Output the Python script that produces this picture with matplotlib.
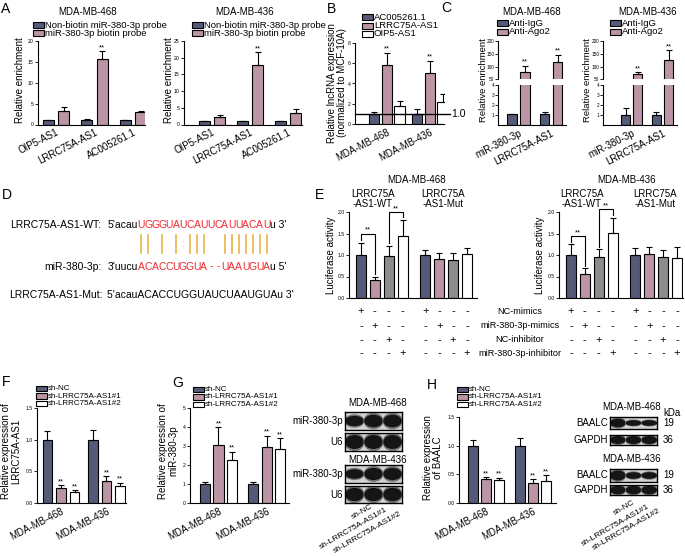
import numpy as np
import matplotlib
matplotlib.use("Agg")
import matplotlib.pyplot as plt
from matplotlib.patches import Rectangle, Ellipse
from matplotlib import transforms

plt.rcParams['font.family'] = ['Liberation Sans', 'DejaVu Sans']

# ---- data ----
A_cats = ["OIP5-AS1", "LRRC75A-AS1", "AC005261.1"]
A468_ctrl = [1.0, 1.0, 1.0]
A468_ctrl_err = [0.15, 0.2, 0.15]
A468_probe = [3.3, 15.6, 2.9]
A468_probe_err = [0.8, 2.0, 0.3]
A436_ctrl = [1.0, 1.0, 1.0]
A436_ctrl_err = [0.15, 0.15, 0.15]
A436_probe = [2.3, 17.7, 3.3]
A436_probe_err = [0.6, 4.0, 1.2]

B_cats = ["MDA-MB-468", "MDA-MB-436"]
B_ac = [1.0, 1.0]
B_ac_err = [0.2, 0.5]
B_lrrc = [5.85, 5.05]
B_lrrc_err = [1.2, 1.2]
B_oip = [1.75, 2.15]
B_oip_err = [0.55, 0.85]

C_cats = ["miR-380-3p", "LRRC75A-AS1"]
C468_igg = [1.05, 1.05]
C468_igg_err = [0.08, 0.2]
C468_ago = [79, 118]
C468_ago_err = [25, 28]
C436_igg = [1.0, 1.0]
C436_igg_err = [0.65, 0.25]
C436_ago = [70, 125]
C436_ago_err = [9, 38]

E_rows = ["NC-mimics", "miR-380-3p-mimics", "NC-inhibitor", "miR-380-3p-inhibitor"]
E468 = [1.0, 0.43, 0.97, 1.45, 1.0, 0.9, 0.88, 1.03]
E468_err = [0.28, 0.07, 0.24, 0.37, 0.12, 0.15, 0.16, 0.13]
E436 = [1.0, 0.56, 0.95, 1.52, 1.0, 1.03, 0.96, 0.92]
E436_err = [0.25, 0.13, 0.18, 0.34, 0.16, 0.16, 0.15, 0.26]

sh_labels = ["sh-NC", "sh-LRRC75A-AS1#1", "sh-LRRC75A-AS1#2"]
F_nc = [1.0, 1.0]
F_nc_err = [0.13, 0.15]
F_sh1 = [0.23, 0.34]
F_sh1_err = [0.05, 0.08]
F_sh2 = [0.17, 0.27]
F_sh2_err = [0.03, 0.05]

G_nc = [1.0, 1.0]
G_nc_err = [0.1, 0.1]
G_sh1 = [3.05, 2.95]
G_sh1_err = [0.95, 0.6]
G_sh2 = [2.25, 2.85]
G_sh2_err = [0.45, 0.55]

H_nc = [1.0, 1.0]
H_nc_err = [0.1, 0.13]
H_sh1 = [0.41, 0.35]
H_sh1_err = [0.04, 0.06]
H_sh2 = [0.4, 0.38]
H_sh2_err = [0.04, 0.1]

# blot band strengths (lanes: sh-NC, #1, #2)
G468_mir = [0.5, 0.62, 0.62]
G468_u6 = [0.7, 0.7, 0.7]
G436_mir = [0.45, 0.6, 0.6]
G436_u6 = [0.7, 0.7, 0.7]
H468_baalc = [0.6, 0.35, 0.35]
H468_gapdh = [0.65, 0.65, 0.65]
H436_baalc = [0.65, 0.4, 0.4]
H436_gapdh = [0.7, 0.7, 0.7]

WT_red = "UGGGUAUCAUUCAUUACAU"
MIR_red = "ACACCUGGUA--UAAUGUA"

DARK = '#555a78'
PINK = '#bb94a6'
GREY = '#8c8c8c'
WHITE = '#ffffff'
RED = '#ee2a2f'
GOLD = '#e8b54a'

W, H = 685, 556
fig = plt.figure(figsize=(W / 100, H / 100), dpi=100)


def fx(x):
    return x / W


def fy(y):
    return 1 - y / H


def px_axes(x0, y0, x1, y1):
    ax = fig.add_axes([fx(x0), fy(y1), (x1 - x0) / W, (y1 - y0) / H])
    ax.spines['top'].set_visible(False)
    ax.spines['right'].set_visible(False)
    for s in ax.spines.values():
        s.set_linewidth(0.8)
    ax.tick_params(axis='y', length=2, width=0.6, pad=1, labelsize=3.7)
    ax.tick_params(axis='x', length=0, labelsize=7, pad=2)
    return ax


def ftext(x, y, s, **kw):
    kw.setdefault('fontsize', 7)
    return fig.text(fx(x), fy(y), s, **kw)


def legend_px(x, ys, labels, colors, fs=6.8):
    for y, lab, c in zip(ys, labels, colors):
        fig.add_artist(Rectangle((fx(x), fy(y + 2.7)), 11 / W, 5.4 / H, transform=fig.transFigure,
                                 fc=c, ec='black', lw=0.8))
        ftext(x + 12, y, lab, fontsize=fs, va='center', ha='left')


def bars(ax, vals_list, errs_list, colors, offs, width, stars=None):
    for k, (vals, errs, c) in enumerate(zip(vals_list, errs_list, colors)):
        xs = np.arange(len(vals)) + offs[k]
        ax.bar(xs, vals, width, color=c, edgecolor='black', linewidth=0.8, zorder=2)
        ax.errorbar(xs, vals, yerr=[np.zeros(len(vals)), errs], fmt='none', ecolor='black',
                    elinewidth=0.8, capsize=2, capthick=0.8, zorder=3)
        if stars is not None:
            for x, v, e, s in zip(xs, vals, errs, stars[k]):
                if s:
                    ax.text(x, v + e, s, ha='center', va='bottom', fontsize=5.5, clip_on=False)


def cat_labels(ax, labels, rot=27):
    ax.set_xticks(range(len(labels)))
    ax.set_xticklabels(labels, rotation=rot, ha='right', rotation_mode='anchor')


# ---------------- A ----------------
ftext(1, 9, "A", fontsize=10, va='center')
axA1 = px_axes(38, 41, 145, 124.5)
bars(axA1, [A468_ctrl, A468_probe], [A468_ctrl_err, A468_probe_err], [DARK, PINK], [-0.2, 0.2], 0.28,
     stars=[['', '', ''], ['', '**', '']])
axA1.set_ylim(0, 20)
axA1.set_yticks([0, 5, 10, 15, 20])
axA1.set_xlim(-0.47, 2.31)
cat_labels(axA1, A_cats)
ftext(88, 12, "MDA-MB-468", ha='center', va='center')
legend_px(33, [25, 33], ["Non-biotin miR-380-3p probe", "miR-380-3p biotin probe"], [DARK, PINK])
ftext(20, 80, "Relative enrichment", rotation=90, ha='center', va='center')

axA2 = px_axes(184, 41, 302, 124.5)
bars(axA2, [A436_ctrl, A436_probe], [A436_ctrl_err, A436_probe_err], [DARK, PINK], [-0.2, 0.2], 0.28,
     stars=[['', '', ''], ['', '**', '']])
axA2.set_ylim(0, 25)
axA2.set_yticks([0, 5, 10, 15, 20, 25])
axA2.set_xlim(-0.74, 2.37)
cat_labels(axA2, A_cats)
ftext(245, 12, "MDA-MB-436", ha='center', va='center')
legend_px(192, [25, 33], ["Non-biotin miR-380-3p probe", "miR-380-3p biotin probe"], [DARK, PINK])
ftext(169, 80, "Relative enrichment", rotation=90, ha='center', va='center')

# ---------------- B ----------------
ftext(327, 9, "B", fontsize=10, va='center')
axB = px_axes(355, 43, 444, 124)
bars(axB, [B_ac, B_lrrc, B_oip], [B_ac_err, B_lrrc_err, B_oip_err], [DARK, PINK, WHITE],
     [-0.3, 0.0, 0.3], 0.245, stars=[['', ''], ['**', '**'], ['', '']])
axB.set_ylim(0, 8)
axB.set_yticks([0, 2, 4, 6, 8])
axB.set_xlim(-0.74, 1.33)
cat_labels(axB, B_cats)
axB.plot([-0.74, 1.48], [1, 1], color='black', lw=1.0, clip_on=False, zorder=4)
axB.text(1.49, 1, "1.0", fontsize=7.5, ha='left', va='center')
legend_px(362, [17, 26, 34], ["AC005261.1", "LRRC75A-AS1", "OIP5-AS1"], [DARK, PINK, WHITE])
ftext(337, 83, "Relative lncRNA expression\n(normalized to MCF-10A)", rotation=90,
      ha='center', va='center', linespacing=1.0)

# ---------------- C ----------------
ftext(441, 8, "C", fontsize=10, va='center')


def broken(x0, x1, xl, xr, igg, igg_e, ago, ago_e):
    top = px_axes(x0, 41, x1, 79.3)
    bot = px_axes(x0, 85, x1, 125)
    for ax in (top, bot):
        bars(ax, [igg, ago], [igg_e, ago_e], [DARK, PINK], [-0.2, 0.2], 0.3,
             stars=[['', ''], ['**', '**']] if ax is top else None)
        ax.set_xlim(xl, xr)
        ax.tick_params(axis='y', labelsize=3.4, pad=0.8)
    top.spines['bottom'].set_visible(False)
    top.set_ylim(50, 200)
    top.set_yticks([50, 100, 150, 200])
    top.set_xticks([])
    bot.set_ylim(0, 4)
    bot.set_yticks([1, 2, 3, 4])
    cat_labels(bot, C_cats)
    return top, bot


broken(498, 566, -0.63, 1.46, C468_igg, C468_igg_err, C468_ago, C468_ago_err)
broken(603, 677, -0.93, 1.47, C436_igg, C436_igg_err, C436_ago, C436_ago_err)
ftext(532, 12, "MDA-MB-468", ha='center', va='center')
ftext(648, 12, "MDA-MB-436", ha='center', va='center')
legend_px(497, [23, 32], ["Anti-IgG", "Anti-Ago2"], [DARK, PINK])
legend_px(610, [23, 32], ["Anti-IgG", "Anti-Ago2"], [DARK, PINK])
ftext(483, 80, "Relative enrichment", rotation=90, ha='center', va='center', fontsize=6.8)
ftext(588, 80, "Relative enrichment", rotation=90, ha='center', va='center', fontsize=6.8)

# ---------------- D ----------------
ftext(2, 195, "D", fontsize=10, va='center')
DFS = 7.5
pitch = 6.97
red_x0 = 137.7
ftext(101.5, 225, "LRRC75A-AS1-WT:", fontsize=DFS, ha='right', va='center')
ftext(red_x0, 225, "5'acau", fontsize=DFS, ha='right', va='center')
for i, ch in enumerate(WT_red):
    ftext(red_x0 + pitch * (i + 0.5), 225, ch, fontsize=DFS, ha='center', va='center', color=RED)
ftext(red_x0 + pitch * len(WT_red), 225, "u 3'", fontsize=DFS, ha='left', va='center')

ftext(101.5, 266.5, "miR-380-3p:", fontsize=DFS, ha='right', va='center')
ftext(red_x0, 266.5, "3'uucu", fontsize=DFS, ha='right', va='center')
for i, ch in enumerate(MIR_red):
    ftext(red_x0 + pitch * (i + 0.5), 266.5, ch, fontsize=DFS, ha='center', va='center', color=RED)
ftext(red_x0 + pitch * len(MIR_red), 266.5, "u 5'", fontsize=DFS, ha='left', va='center')

# base pairing marks
for i, (a, b) in enumerate(zip(WT_red, MIR_red)):
    pair = a + b
    xc = fx(red_x0 + pitch * (i + 0.5))
    if pair in ("AU", "UA", "GC", "CG"):
        fig.add_artist(plt.Line2D([xc, xc], [fy(235), fy(253)], color=GOLD, lw=1.2))
    elif pair in ("UG", "GU"):
        ftext(red_x0 + pitch * (i + 0.5), 244, ":", fontsize=DFS, ha='center', va='center', color=GOLD)

ftext(103, 295, "LRRC75A-AS1-Mut:", fontsize=DFS, ha='right', va='center')
ftext(106.7, 295, "5'acauACACCUGGUAUCUAAUGUAu 3'", fontsize=DFS, ha='left', va='center')

# ---------------- E ----------------
ftext(315, 195, "E", fontsize=10, va='center')
E_pos = np.array([0, 1, 2, 3, 4.65, 5.65, 6.65, 7.65])
E_cols = [DARK, PINK, GREY, WHITE] * 2
row_y = [311, 326, 340, 353]


def luc(x0, x1, xr, vals, errs, b1, b2):
    ax = px_axes(x0, 212, x1, 298)
    ax.bar(E_pos, vals, 0.72, color=E_cols, edgecolor='black', linewidth=0.8, zorder=2)
    ax.errorbar(E_pos, vals, yerr=[np.zeros(len(vals)), errs], fmt='none', ecolor='black',
                elinewidth=0.8, capsize=2, capthick=0.8, zorder=3)
    ax.set_ylim(0, 2)
    ax.set_yticks([0, 0.5, 1.0, 1.5, 2.0])
    ax.set_yticklabels(["0.0", "0.5", "1.0", "1.5", "2.0"])
    ax.set_xlim(-0.86, xr)
    ax.set_xticks([])
    for (i, j), yb in zip([(0, 1), (2, 3)], [b1, b2]):
        ax.plot([E_pos[i], E_pos[i], E_pos[j], E_pos[j]],
                [vals[i] + errs[i] + 0.06, yb, yb, vals[j] + errs[j] + 0.06],
                color='black', lw=0.8, clip_on=False, zorder=4)
        ax.text((E_pos[i] + E_pos[j]) / 2, yb, "**", ha='center', va='bottom', fontsize=5.5)
    tr = transforms.blended_transform_factory(ax.transData, fig.transFigure)
    for r, y in enumerate(row_y):
        for j, x in enumerate(E_pos):
            s = '+' if j % 4 == r else '-'
            ax.text(x, fy(y), s, transform=tr, ha='center', va='center', fontsize=8)
    return ax


luc(349, 477, 8.37, E468, E468_err, 1.5, 2.0)
luc(559, 683, 8.08, E436, E436_err, 1.44, 2.07)
for lab, y in zip(E_rows, row_y):
    ftext(520, y, lab, fontsize=6.6, ha='center', va='center')
ftext(417, 180, "MDA-MB-468", ha='center', va='center')
ftext(627, 180, "MDA-MB-436", ha='center', va='center')
for xc, lab in [(373, "LRRC75A\n-AS1-WT"), (443, "LRRC75A\n-AS1-Mut"),
                (582, "LRRC75A\n-AS1-WT"), (655, "LRRC75A\n-AS1-Mut")]:
    ftext(xc, 199, lab, ha='center', va='center', linespacing=0.95)
ftext(331, 255, "Luciferase activity", rotation=90, ha='center', va='center')
ftext(540, 255, "Luciferase activity", rotation=90, ha='center', va='center')

# ---------------- F ----------------
SFS = 5.8
ftext(2, 382, "F", fontsize=10, va='center')
axF = px_axes(37, 408, 126, 503)
bars(axF, [F_nc, F_sh1, F_sh2], [F_nc_err, F_sh1_err, F_sh2_err], [DARK, PINK, WHITE],
     [-0.3, 0.0, 0.3], 0.21, stars=[['', ''], ['**', '**'], ['**', '**']])
axF.set_ylim(0, 1.5)
axF.set_yticks([0, 0.5, 1.0, 1.5])
axF.set_yticklabels(["0.0", "0.5", "1.0", "1.5"])
axF.set_xlim(-0.53, 1.43)
cat_labels(axF, B_cats)
legend_px(36, [388.5, 396, 403.5], sh_labels, [DARK, PINK, WHITE], fs=SFS)
ftext(11, 451, "Relative expression of\nLRRC75A-AS1", rotation=90, ha='center', va='center',
      linespacing=1.0)

# ---------------- G ----------------
ftext(172, 383, "G", fontsize=10, va='center')
axG = px_axes(190, 408, 289, 503)
bars(axG, [G_nc, G_sh1, G_sh2], [G_nc_err, G_sh1_err, G_sh2_err], [DARK, PINK, WHITE],
     [-0.28, 0.0, 0.28], 0.21, stars=[['', ''], ['**', '**'], ['**', '**']])
axG.set_ylim(0, 5)
axG.set_yticks([0, 1, 2, 3, 4, 5])
axG.set_xlim(-0.59, 1.46)
cat_labels(axG, B_cats)
legend_px(193, [389.5, 397, 404.5], sh_labels, [DARK, PINK, WHITE], fs=SFS)
ftext(168, 451, "Relative expression of\nmiR-380-3p", rotation=90, ha='center', va='center',
      linespacing=1.0)


def blot(x0, y0, x1, y1, strength):
    ax = fig.add_axes([fx(x0), fy(y1), (x1 - x0) / W, (y1 - y0) / H])
    ax.set_xlim(0, 3)
    ax.set_ylim(0, 1)
    ax.set_xticks([])
    ax.set_yticks([])
    ax.set_facecolor('#d2d2d2')
    for s in ax.spines.values():
        s.set_linewidth(1.0)
    for i, h in enumerate(strength):
        ax.add_patch(Ellipse((i + 0.5, 0.5), 0.98, h * 1.35, color='#777777'))
        ax.add_patch(Ellipse((i + 0.5, 0.5), 0.9, h, color='#151515'))
    return ax


ftext(378, 403, "MDA-MB-468", ha='center', va='center')
blot(345, 412, 402, 430, G468_mir)
blot(345, 433, 402, 451, G468_u6)
ftext(378, 460, "MDA-MB-436", ha='center', va='center')
blot(345, 465, 402, 483, G436_mir)
blot(345, 486, 402, 503, G436_u6)
for lab, y in [("miR-380-3p", 421), ("U6", 442), ("miR-380-3p", 474), ("U6", 494.5)]:
    ftext(343, y, lab, ha='right', va='center')
for lab, (x, y) in zip(sh_labels, [(371, 503), (385, 506.5), (399, 510)]):
    ftext(x, y, lab, fontsize=6.0, rotation=30, ha='right', va='top', rotation_mode='anchor')

# ---------------- H ----------------
ftext(427, 385, "H", fontsize=10, va='center')
axH = px_axes(459, 417, 556, 503)
bars(axH, [H_nc, H_sh1, H_sh2], [H_nc_err, H_sh1_err, H_sh2_err], [DARK, PINK, WHITE],
     [-0.28, 0.0, 0.28], 0.21, stars=[['', ''], ['**', '**'], ['**', '**']])
axH.set_ylim(0, 1.5)
axH.set_yticks([0, 0.5, 1.0, 1.5])
axH.set_yticklabels(["0.0", "0.5", "1.0", "1.5"])
axH.set_xlim(-0.57, 1.49)
cat_labels(axH, B_cats)
legend_px(457, [389.5, 397, 404.5], sh_labels, [DARK, PINK, WHITE], fs=SFS)
ftext(433, 458, "Relative expression\nof BAALC", rotation=90, ha='center', va='center',
      linespacing=1.0)

ftext(632, 407, "MDA-MB-468", ha='center', va='center')
ftext(672, 413, "kDa", ha='center', va='center')
blot(610, 417, 657, 429, H468_baalc)
blot(610, 435, 657, 445, H468_gapdh)
ftext(632, 459, "MDA-MB-436", ha='center', va='center')
blot(610, 469, 657, 482, H436_baalc)
blot(610, 485, 657, 495, H436_gapdh)
for lab, y in [("BAALC", 423), ("GAPDH", 440), ("BAALC", 475.5), ("GAPDH", 490)]:
    ftext(608, y, lab, ha='right', va='center')
for lab, y in [("19", 423), ("36", 440), ("19", 475.5), ("36", 490)]:
    ftext(663, y, lab, ha='left', va='center')
for lab, (x, y) in zip(sh_labels, [(633, 499), (647, 503), (658, 507)]):
    ftext(x, y, lab, fontsize=6.0, rotation=30, ha='right', va='top', rotation_mode='anchor')

fig.savefig("out.png", dpi=100)
